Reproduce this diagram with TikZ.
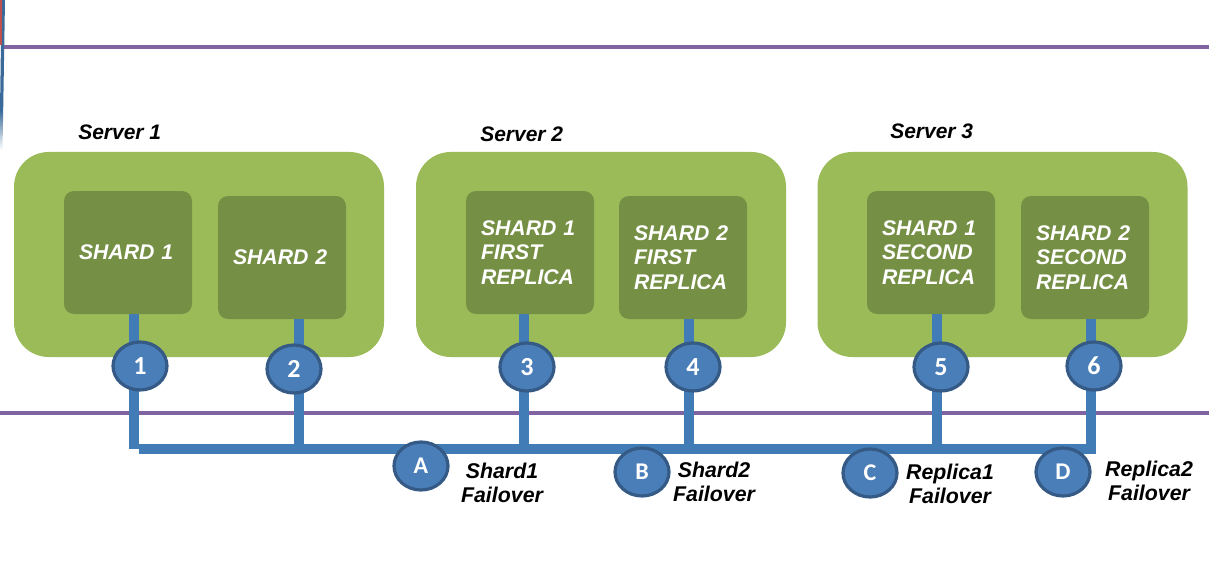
\documentclass[tikz,border=0pt]{standalone}
\usepackage{fontspec}
\setmainfont{Liberation Sans}
\newfontfamily\numfont{Carlito}
\usetikzlibrary{shapes.geometric}
\definecolor{outergreen}{HTML}{9BBB59}
\definecolor{innergreen}{HTML}{758F45}
\definecolor{busblue}{HTML}{417CB6}
\definecolor{circfill}{HTML}{4A7EB8}
\definecolor{circedge}{HTML}{345A85}
\definecolor{rulepurple}{HTML}{8064A2}
\definecolor{edgeblue}{HTML}{3A6A9A}
\definecolor{edgered}{HTML}{C0504D}
\begin{document}
\begin{tikzpicture}[x=0.75pt,y=-0.75pt,
  server/.style={fill=outergreen, draw=none, rounded corners=26pt, minimum width=277.5pt, minimum height=153.75pt, inner sep=0pt},
  shardbox/.style={fill=innergreen, draw=none, rounded corners=7.5pt, minimum width=96pt, minimum height=92.25pt, text width=73.5pt, inner xsep=11.25pt, inner ysep=0pt, align=left, text=white, font=\fontsize{15.9pt}{18.5pt}\selectfont\bfseries\itshape},
  servlab/.style={anchor=west, inner sep=0pt, text=black, font=\fontsize{15.75pt}{18.4pt}\selectfont\bfseries\itshape},
  faillab/.style={align=center, inner sep=0pt, text=black, font=\fontsize{16pt}{18pt}\selectfont\bfseries\itshape},
  numcirc/.style={ellipse, minimum width=40.5pt, minimum height=36pt, inner sep=0pt, fill=circfill, draw=circedge, line width=2.4pt, text=white, font=\numfont\bfseries\fontsize{19.5pt}{20pt}\selectfont},
  letcirc/.style={numcirc, font=\numfont\bfseries\fontsize{18pt}{20pt}\selectfont},
  bus/.style={draw=busblue, line width=7.5pt, line join=miter},
  rule/.style={draw=rulepurple, line width=3pt}]
\useasboundingbox (0,0) rectangle (1209,581);

% page edges and rules
\fill[edgeblue] (1.6,0) -- (5,0) -- (3.2,110) -- (0,110) -- cycle;
\shade[top color=edgeblue, bottom color=white] (0,110) -- (3.2,110) -- (2.5,150) -- (0,150) -- cycle;
\fill[edgered] (0,0) rectangle (1.6,45);
\draw[rule] (4,47) -- (1209,47);
\draw[rule] (0,413) -- (1209,413);

% servers
\node[server] (srv1) at (199,254.5) {};
\node[server] (srv2) at (601,254.5) {};
\node[server] (srv3) at (1002.5,254.5) {};
\node[servlab] (lab1) at (78,132) {Server 1};
\node[servlab] (lab2) at (480,134) {Server 2};
\node[servlab] (lab3) at (890,131) {Server 3};

% shards
\node[shardbox] (s11) at (128,252.5) {SHARD 1};
\node[shardbox] (s12) at (282,257.5) {SHARD 2};
\node[shardbox] (s21) at (530,252.5) {SHARD 1\\FIRST\\REPLICA};
\node[shardbox] (s22) at (683,257.5) {SHARD 2\\FIRST\\REPLICA};
\node[shardbox] (s31) at (931,252.5) {SHARD 1\\SECOND\\REPLICA};
\node[shardbox] (s32) at (1085,257.5) {SHARD 2\\SECOND\\REPLICA};

% bus junctions
\coordinate (j1) at (134,449);
\coordinate (j2) at (299,449);
\coordinate (j3) at (524,449);
\coordinate (j4) at (689,449);
\coordinate (j5) at (937,449);
\coordinate (j6) at (1091,449);
\coordinate (busstart) at (139,449);

% connectors
\draw[bus] (s11.south -| j1) -- (j1);
\draw[bus] (s12.south -| j2) -- (j2);
\draw[bus] (s21.south -| j3) -- (j3);
\draw[bus] (s22.south -| j4) -- (j4);
\draw[bus] (s31.south -| j5) -- (j5);
\draw[bus] (busstart) -- (j6) -- (s32.south -| j6);

% numbered circles
\node[numcirc] (c1) at (140,366) {1};
\node[numcirc] (c2) at (294,369) {2};
\node[numcirc] (c3) at (527,367) {3};
\node[numcirc] (c4) at (693,367) {4};
\node[numcirc] (c5) at (941,367) {5};
\node[numcirc] (c6) at (1094,366) {6};

% failover circles
\node[letcirc] (cA) at (421,466) {A};
\node[letcirc] (cB) at (642,472) {B};
\node[letcirc] (cC) at (870,473) {C};
\node[letcirc] (cD) at (1063,472) {D};

% failover labels
\node[faillab] (fA) at (502,483) {Shard1\\Failover};
\node[faillab] (fB) at (714,481.5) {Shard2\\Failover};
\node[faillab] (fC) at (950,484) {Replica1\\Failover};
\node[faillab] (fD) at (1149,481) {Replica2\\Failover};
\end{tikzpicture}
\end{document}
